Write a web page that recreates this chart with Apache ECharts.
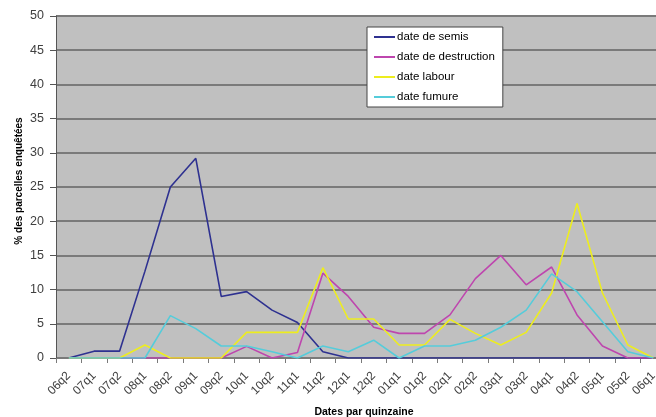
<!DOCTYPE html>
<html><head><meta charset="utf-8">
<script src="https://cdn.jsdelivr.net/npm/echarts@6/dist/echarts.min.js"></script>
<style>html,body{margin:0;padding:0;background:#fff}#c{width:656px;height:417px}</style>
</head><body><div id="c"></div>
<script>
const categories = ['06q2','07q1','07q2','08q1','08q2','09q1','09q2','10q1','10q2','11q1','11q2','12q1','12q2','01q1','01q2','02q1','02q2','03q1','03q2','04q1','04q2','05q1','05q2','06q1'];
const semis       = [0,1,1,12.7,25,29.2,9,9.7,7,5.2,0.9,0,0,0,0,0,0,0,0,0,0,0,0,0];
const destruction = [0,0,0,0,0,0,0,1.7,0,0.8,12.4,9,4.5,3.6,3.6,6.3,11.6,15,10.7,13.3,6.3,1.75,0,0];
const labour      = [0,0,0,1.9,0,0,0,3.75,3.75,3.75,13.2,5.7,5.7,1.9,1.9,5.65,3.6,1.9,3.75,9.5,22.6,9.5,1.9,0];
const fumure      = [0,0,0,0,6.2,4.3,1.75,1.75,0.9,0,1.75,0.9,2.6,0,1.75,1.75,2.6,4.5,7,12.3,9.7,5.3,0.9,0];
const seriesNames = ['date de semis','date de destruction','date labour','date fumure'];
const colors = ['#2E3190','#BE46AE','#EDED1E','#55CCDA'];
const font = 'Liberation Sans';
const chart = echarts.init(document.getElementById('c'), null, {renderer:'canvas'});
const mk = (name, data, color) => ({
  name, type:'line', data, symbol:'none', smooth:false,
  lineStyle:{color, width:1.6}, itemStyle:{color}
});
chart.setOption({
  animation:false,
  textStyle:{fontFamily:font},
  grid:{left:56, top:16, width:610, height:342, show:true, backgroundColor:'#C0C0C0', borderWidth:0,
        containLabel:false, outerBoundsMode:'none'},
  legend:{
    orient:'vertical', left:367, top:27,
    backgroundColor:'#fff', borderColor:'#444', borderWidth:1,
    padding:[4,8,4,7], itemGap:8, itemWidth:21, itemHeight:2, icon:'rect',
    textStyle:{fontFamily:font, fontSize:11.5, color:'#000', lineHeight:12, padding:[0,0,0,-3]},
    data:seriesNames
  },
  xAxis:{
    type:'category', data:categories, boundaryGap:true,
    name:'Dates par quinzaine', nameLocation:'middle', nameGap:49, nameMoveOverlap:false,
    nameTextStyle:{fontFamily:font, fontSize:10.5, fontWeight:'bold', color:'#000', padding:[0,0,0,6]},
    axisLine:{lineStyle:{color:'#7a7a7a', width:1}},
    axisTick:{show:true, length:5, lineStyle:{color:'#7a7a7a'}},
    axisLabel:{rotate:45, fontFamily:font, fontSize:12, color:'#404040', margin:16, interval:0}
  },
  yAxis:{
    type:'value', min:0, max:50, interval:5,
    name:'% des parcelles enquêtées', nameLocation:'middle', nameGap:32, nameMoveOverlap:false,
    nameTextStyle:{fontFamily:font, fontSize:10, fontWeight:'bold', color:'#000', padding:[0,0,0,12]},
    axisLine:{show:true, lineStyle:{color:'#555', width:1}},
    axisTick:{show:true, length:6, lineStyle:{color:'#555'}},
    axisLabel:{fontFamily:font, fontSize:12.5, color:'#404040', margin:12},
    splitLine:{show:true, lineStyle:{color:'#7a7a7a', width:2}}
  },
  series:[
    mk(seriesNames[0], semis, colors[0]),
    mk(seriesNames[1], destruction, colors[1]),
    mk(seriesNames[2], labour, colors[2]),
    mk(seriesNames[3], fumure, colors[3])
  ]
});
</script></body></html>
